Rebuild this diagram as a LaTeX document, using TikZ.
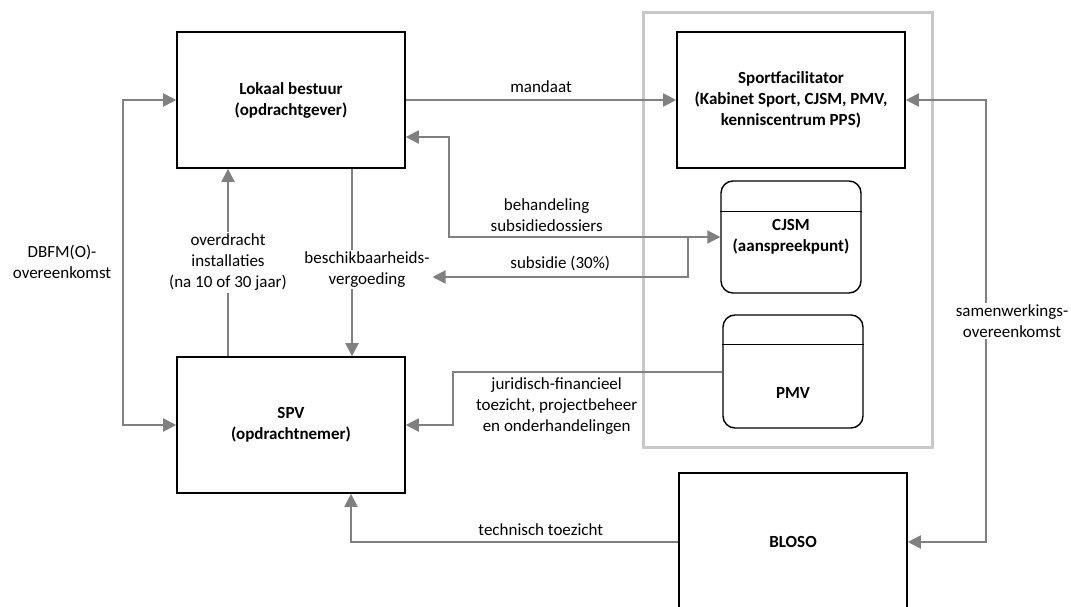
\documentclass[tikz,border=0pt]{standalone}
\usepackage{fontspec}
\setmainfont{Carlito}
\usetikzlibrary{arrows.meta}
\definecolor{pijlgrijs}{RGB}{128,128,128}
\definecolor{kadergrijs}{RGB}{200,200,200}

\begin{document}
\begin{tikzpicture}[x=1pt,y=-1pt,
    font=\fontsize{17}{21}\selectfont,
    >={Triangle[length=13pt,width=13pt]},
    box/.style={draw=black,line width=1.6pt,minimum width=228pt,minimum height=136pt,
        align=center,font=\fontsize{17}{21}\selectfont\bfseries},
    rbox/.style={draw=black,line width=1.4pt,rounded corners=12pt,minimum width=140pt,
        minimum height=112pt,align=center,font=\fontsize{17}{21}\selectfont\bfseries},
    pijl/.style={draw=pijlgrijs,line width=2pt,->},
    tekst/.style={fill=white,align=center,inner sep=2pt}]

    \useasboundingbox (0,0) rectangle (1071,607);
    \clip (0,0) rectangle (1071,607);

    % kader
    \draw[kadergrijs,line width=3pt] (643,13) rectangle (932,447);

    % Knopen
    \node[box] (lokaal) at (291,100) {Lokaal bestuur\\(opdrachtgever)};
    \node[box] (spv) at (291,425) {SPV\\(opdrachtnemer)};
    \node[box] (sport) at (791,100) {Sportfacilitator\\(Kabinet Sport, CJSM, PMV,\\kenniscentrum PPS)};
    \node[box,minimum height=138pt] (bloso) at (793,542) {BLOSO};
    \node[rbox] (cjsm) at (791,237) {CJSM\\(aanspreekpunt)};
    \node[rbox,minimum height=113pt] (pmv) at (793,371.5) {};
    \node[font=\fontsize{17}{21}\selectfont\bfseries] (pmvtekst) at (793,393) {PMV};
    \draw[line width=1.4pt] ([yshift=-31pt]cjsm.north west) -- ([yshift=-31pt]cjsm.north east);
    \draw[line width=1.4pt] ([yshift=-30pt]pmv.north west) -- ([yshift=-30pt]pmv.north east);

    % Punkte
    \coordinate (d1) at (123,100);
    \coordinate (d2) at (123,425);
    \coordinate (b1) at (449,137);
    \coordinate (b2) at (449,237);
    \coordinate (s1) at (688,237);
    \coordinate (s2) at (688,277);
    \coordinate (j1) at (453,371.5);
    \coordinate (j2) at (453,425);
    \coordinate (t1) at (351,542);
    \coordinate (w1) at (986,100);
    \coordinate (w2) at (986,542);

    % Pijlen
    \draw[pijl] (lokaal.east) -- node[above=3pt] (mandaat) {mandaat} (sport.west);
    \draw[pijl,<->] (lokaal.west) -- (d1) -- (d2) -- (spv.west);
    \node[tekst] (dbfm) at (62,262) {DBFM(O)-\\overeenkomst};
    \draw[pijl] ([xshift=-63pt]spv.north) -- node[tekst] (overdracht)
        {overdracht\\installaties\\(na 10 of 30 jaar)} ([xshift=-63pt]lokaal.south);
    \draw[pijl] ([xshift=61pt]lokaal.south) -- node[tekst,xshift=15pt,yshift=-7pt] (beschik)
        {beschikbaarheids-\\vergoeding} ([xshift=61pt]spv.north);
    \draw[pijl,<->] ([yshift=-37pt]lokaal.east) -- (b1) -- (b2) -- node[above=1pt,pos=0.36,align=center] (behandeling)
        {behandeling\\subsidiedossiers} (cjsm.west);
    \draw[pijl] (s1) -- (s2) -- node[above=2pt] (subsidie) {subsidie (30\%)} (beschik.east |- s2);
    \draw[pijl] (pmv.west) -- node[below=2pt,pos=0.615,align=center] (juridisch)
        {juridisch-financieel\\toezicht, projectbeheer\\en onderhandelingen} (j1) -- (j2) -- (spv.east);
    \draw[pijl] (bloso.west) -- node[above=2pt,pos=0.42] (technisch) {technisch toezicht} (t1) -- (t1 |- spv.south);
    \draw[pijl,<->] (sport.east) -- (w1) -- node[tekst,xshift=26pt] (samenwerking)
        {samenwerkings-\\overeenkomst} (w2) -- (bloso.east);
\end{tikzpicture}
\end{document}
